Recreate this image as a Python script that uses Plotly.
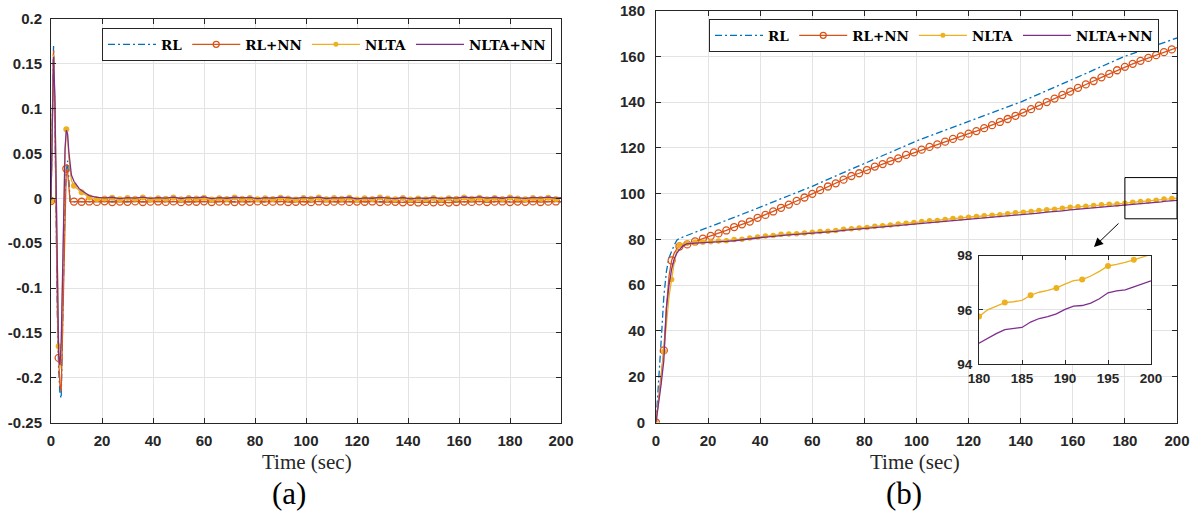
import numpy as np
import plotly.graph_objects as go

# ---------------- panel (a): tracking error ----------------
t_a_early = [0, 0.5, 1, 1.5, 2, 2.5, 3, 3.5, 4, 4.5, 5, 5.5, 6, 6.5, 7, 7.5, 8, 9, 10, 11, 12]
t_a_late = list(range(15, 199, 3)) + [200]

rl_a_early = [-0.003, 0.080, 0.170, 0.095, -0.030, -0.130, -0.190, -0.218, -0.223, -0.150, -0.060,
              0.000, 0.030, 0.042, 0.020, -0.0035, -0.0040, -0.0038, -0.0036, -0.0039, -0.0037]
rlnn_a_early = [-0.003, 0.075, 0.165, 0.095, -0.030, -0.125, -0.178, -0.208, -0.215, -0.150, -0.065,
                -0.005, 0.033, 0.030, 0.010, -0.0035, -0.0040, -0.0036, -0.0039, -0.0034, -0.0038]
nlta_a_early = [-0.003, 0.070, 0.160, 0.110, 0.000, -0.100, -0.165, -0.190, -0.170, -0.100, -0.010,
                0.050, 0.077, 0.070, 0.045, 0.028, 0.020, 0.014, 0.011, 0.009, 0.0069]
nltann_a_early = [-0.002, 0.070, 0.158, 0.115, 0.005, -0.105, -0.175, -0.186, -0.160, -0.090, 0.000,
                  0.055, 0.076, 0.072, 0.052, 0.035, 0.026, 0.019, 0.015, 0.011, 0.0087]

rl_a_late = [-0.0038, -0.0036, -0.0039, -0.0037, -0.0035, -0.0038, -0.0036, -0.0039, -0.0037, -0.0036,
             -0.0038, -0.0035, -0.0037, -0.0039, -0.0036, -0.0038, -0.0037, -0.0035, -0.0038, -0.0036,
             -0.0039, -0.0037, -0.0036, -0.0038, -0.0035, -0.0037, -0.0039, -0.0036, -0.0038, -0.0037,
             -0.0035, -0.0038, -0.0036, -0.0039, -0.0037, -0.0036, -0.0038, -0.0035, -0.0037, -0.0039,
             -0.0036, -0.0044, -0.0037, -0.0046, -0.0040, -0.0045, -0.0039, -0.0048, -0.0036, -0.0038,
             -0.0035, -0.0037, -0.0039, -0.0036, -0.0038, -0.0037, -0.0035, -0.0038, -0.0036, -0.0039,
             -0.0037, -0.0036, -0.0038]
rlnn_a_late = [-0.0035, -0.0040, -0.0033, -0.0042, -0.0036, -0.0039, -0.0034, -0.0041, -0.0037, -0.0035,
               -0.0040, -0.0034, -0.0043, -0.0036, -0.0038, -0.0033, -0.0041, -0.0037, -0.0035, -0.0042,
               -0.0036, -0.0039, -0.0034, -0.0040, -0.0037, -0.0035, -0.0041, -0.0038, -0.0036, -0.0043,
               -0.0035, -0.0039, -0.0037, -0.0034, -0.0040, -0.0036, -0.0038, -0.0035, -0.0042, -0.0037,
               -0.0039, -0.0045, -0.0038, -0.0046, -0.0040, -0.0044, -0.0039, -0.0047, -0.0041, -0.0036,
               -0.0040, -0.0034, -0.0041, -0.0037, -0.0035, -0.0042, -0.0036, -0.0039, -0.0034, -0.0041,
               -0.0037, -0.0035, -0.0040]
nlta_a_late = [0.0013, -0.0008, -0.0002, 0.0006, -0.0011, 0.0003, -0.0005, 0.0009, -0.0012, 0.0002,
               -0.0006, 0.0008, -0.0010, 0.0004, -0.0003, 0.0007, -0.0013, 0.0001, -0.0007, 0.0010,
               -0.0004, 0.0005, -0.0011, 0.0002, -0.0008, 0.0006, -0.0002, -0.0012, 0.0004, -0.0006,
               0.0009, -0.0009, 0.0003, -0.0005, 0.0007, -0.0013, 0.0000, -0.0007, 0.0008, -0.0003,
               -0.0010, 0.0005, -0.0014, -0.0002, -0.0009, 0.0004, -0.0012, 0.0001, -0.0006, 0.0009,
               -0.0004, 0.0006, -0.0010, 0.0003, -0.0007, 0.0008, -0.0002, -0.0011, 0.0005, -0.0005,
               0.0007, -0.0008, 0.0002]
nltann_a_late = [0.0030, 0.0010, 0.0004, 0.0012, -0.0003, 0.0009, 0.0002, 0.0014, -0.0001, 0.0008,
                 0.0003, 0.0013, -0.0002, 0.0010, 0.0005, 0.0015, -0.0004, 0.0007, 0.0001, 0.0012,
                 0.0004, 0.0011, -0.0003, 0.0009, 0.0002, 0.0013, 0.0006, -0.0001, 0.0010, 0.0003,
                 0.0014, -0.0002, 0.0008, 0.0004, 0.0012, -0.0005, 0.0006, 0.0001, 0.0011, 0.0003,
                 -0.0004, 0.0009, -0.0006, 0.0005, -0.0002, 0.0010, -0.0003, 0.0007, 0.0002, 0.0015,
                 0.0006, 0.0016, 0.0003, 0.0012, 0.0001, 0.0013, 0.0005, -0.0001, 0.0011, 0.0004,
                 0.0014, 0.0002, 0.0009]

# ---------------- panel (b): cumulative cost ----------------
t_rl_b = [0, 1, 2, 3, 4, 5, 6, 7, 8, 9, 10, 15, 20, 30, 40, 50, 60, 70, 80, 90, 100,
          110, 120, 130, 140, 150, 160, 170, 180, 190, 200]
rl_b = [0, 16, 36, 55, 66, 72, 75, 77.5, 79.6, 80.5, 80.9, 83.0, 85.1, 89.6, 94.1, 98.6, 103.2,
        108.2, 113.1, 118.1, 123.0, 127.3, 131.5, 135.8, 140.0, 145.0, 150.0, 155.0, 160.0, 164.0, 168.0]

t_rlnn_b = list(range(0, 13)) + list(range(15, 199, 3)) + [200]
rlnn_b = [0, 10, 21, 31.5, 50, 64, 70.8, 74, 75.8, 76.9, 77.2, 77.5, 77.8,
          79.1, 80.3, 81.5, 82.6, 83.9, 85.4, 86.6, 87.8, 89.4, 90.7,
          92.2, 93.8, 95.2, 96.8, 98.3, 99.9, 101.5, 103.1, 104.5, 106.1,
          107.7, 108.9, 110.3, 111.8, 112.9, 114.2, 115.4, 116.9, 118.0, 119.2,
          120.4, 121.5, 122.7, 123.9, 125.0, 126.2, 127.3, 128.6, 129.9, 131.3,
          132.6, 134.0, 135.4, 136.9, 138.4, 140.0, 141.5, 143.1, 144.6, 146.2,
          147.7, 149.2, 150.8, 152.3, 153.9, 155.4, 156.7, 158.0, 159.3, 160.5,
          161.8, 163.0, 163.8]

t_nl_b = list(range(0, 13)) + list(range(15, 178, 3)) + list(range(180, 201))
nlta_b = [0, 9, 19, 31, 44, 55, 62.5, 70, 75, 77.5, 77.9, 78.1, 78.3,
          78.8, 78.8, 79.0, 79.3, 79.4, 79.9, 80.1, 80.6, 81.0, 81.5,
          81.7, 82.2, 82.3, 82.5, 82.8, 83.1, 83.4, 83.6, 83.9, 84.4,
          84.7, 85.0, 85.2, 85.7, 86.0, 86.3, 86.7, 87.1, 87.4, 87.8,
          88.1, 88.3, 88.7, 89.1, 89.3, 89.7, 90.0, 90.3, 90.6, 90.8,
          91.2, 91.6, 91.9, 92.2, 92.6, 93.0, 93.2, 93.6, 94.0, 94.3,
          94.5, 94.8, 95.1, 95.3, 95.5,
          95.75, 96.0, 96.15, 96.27, 96.3, 96.35, 96.54, 96.65, 96.72, 96.81,
          96.95, 97.08, 97.12, 97.25, 97.42, 97.62, 97.68, 97.75, 97.85, 97.95, 98.05]
nltann_b = [0, 8, 17, 27, 50, 60, 67, 71.5, 74, 75.5, 76.8, 77.6, 78.1,
            78.4, 78.5, 78.6, 78.9, 79.1, 79.4, 79.7, 80.1, 80.6, 81.0,
            81.4, 81.8, 82.0, 82.2, 82.4, 82.7, 83.0, 83.2, 83.5, 83.9,
            84.2, 84.5, 84.7, 85.1, 85.4, 85.7, 86.1, 86.4, 86.7, 87.0,
            87.3, 87.5, 87.8, 88.2, 88.4, 88.8, 89.0, 89.3, 89.6, 89.8,
            90.1, 90.5, 90.8, 91.1, 91.5, 91.9, 92.1, 92.5, 92.9, 93.2,
            93.4, 93.7, 94.0, 94.2, 94.5,
            94.77, 94.95, 95.12, 95.27, 95.31, 95.35, 95.55, 95.68, 95.75, 95.85,
            96.02, 96.14, 96.16, 96.25, 96.41, 96.63, 96.70, 96.74, 96.85, 96.95, 97.07]

# axis ticks
x_ticks = [0, 20, 40, 60, 80, 100, 120, 140, 160, 180, 200]
ya_ticks = [-0.25, -0.2, -0.15, -0.1, -0.05, 0, 0.05, 0.1, 0.15, 0.2]
ya_ticktext = ['-0.25', '-0.2', '-0.15', '-0.1', '-0.05', '0', '0.05', '0.1', '0.15', '0.2']
yb_ticks = [0, 20, 40, 60, 80, 100, 120, 140, 160, 180]
inset_x_ticks = [180, 185, 190, 195, 200]
inset_y_ticks = [94, 96, 98]

names = ['RL', 'RL+NN', 'NLTA', 'NLTA+NN']

# ---------------- styling ----------------
C_RL = '#0072BD'
C_RLNN = '#D95319'
C_NLTA = '#EDB120'
C_NLTANN = '#7E2F8E'
AX = '#262626'
GRID = '#e3e3e3'
LW = 1.3
DASHDOT = '7px,3px,2px,3px'


def on_grid(t):
    t = np.asarray(t, dtype=float)
    return np.isclose(np.mod(t, 3), 0)


t_a = np.array(t_a_early + t_a_late, dtype=float)
series_a = {
    'RL': np.array(rl_a_early + rl_a_late),
    'RL+NN': np.array(rlnn_a_early + rlnn_a_late),
    'NLTA': np.array(nlta_a_early + nlta_a_late),
    'NLTA+NN': np.array(nltann_a_early + nltann_a_late),
}

fig = go.Figure()


def add_series(t, y, color, xa, ya, dash='solid', marker=None, msize=6, width=LW):
    t = np.asarray(t, dtype=float)
    y = np.asarray(y, dtype=float)
    fig.add_trace(go.Scatter(x=t, y=y, mode='lines', showlegend=False, hoverinfo='skip',
                             line=dict(color=color, width=width, dash=dash),
                             xaxis=xa, yaxis=ya))
    if marker is not None:
        m = on_grid(t)
        if marker == 'circle-open':
            mk = dict(symbol='circle-open', size=msize, color=color, line=dict(width=1.3, color=color))
        else:
            mk = dict(symbol='circle', size=msize, color=color, line=dict(width=0))
        fig.add_trace(go.Scatter(x=t[m], y=y[m], mode='markers', showlegend=False, hoverinfo='skip',
                                 marker=mk, xaxis=xa, yaxis=ya))


# panel (a)
add_series(t_a, series_a['RL'], C_RL, 'x', 'y', dash=DASHDOT)
add_series(t_a, series_a['RL+NN'], C_RLNN, 'x', 'y', marker='circle-open', msize=7)
add_series(t_a, series_a['NLTA'], C_NLTA, 'x', 'y', marker='circle', msize=6)
add_series(t_a, series_a['NLTA+NN'], C_NLTANN, 'x', 'y')

# panel (b)
add_series(t_rl_b, rl_b, C_RL, 'x2', 'y2', dash=DASHDOT)
add_series(t_rlnn_b, rlnn_b, C_RLNN, 'x2', 'y2', marker='circle-open', msize=7)
add_series(t_nl_b, nlta_b, C_NLTA, 'x2', 'y2', marker='circle', msize=5.5)
add_series(t_nl_b, nltann_b, C_NLTANN, 'x2', 'y2')

# zoomed inset of panel (b)
add_series(t_nl_b, nlta_b, C_NLTA, 'x3', 'y3', marker='circle', msize=6)
add_series(t_nl_b, nltann_b, C_NLTANN, 'x3', 'y3')

# legend entries (one legend per panel)
styles = {
    'RL': dict(mode='lines', line=dict(color=C_RL, width=LW, dash=DASHDOT)),
    'RL+NN': dict(mode='lines+markers', line=dict(color=C_RLNN, width=LW),
                  marker=dict(symbol='circle-open', size=6, color=C_RLNN, line=dict(width=1.3, color=C_RLNN))),
    'NLTA': dict(mode='lines+markers', line=dict(color=C_NLTA, width=LW),
                 marker=dict(symbol='circle', size=5, color=C_NLTA)),
    'NLTA+NN': dict(mode='lines', line=dict(color=C_NLTANN, width=LW)),
}
for leg, xa, ya in (('legend', 'x', 'y'), ('legend2', 'x2', 'y2')):
    for n in names:
        fig.add_trace(go.Scatter(x=[None], y=[None], name=n, legend=leg, xaxis=xa, yaxis=ya,
                                 hoverinfo='skip', **styles[n]))

tickfont = dict(family='Liberation Sans', size=15, color=AX, weight='bold')


def axis_style(**kw):
    d = dict(showline=True, linecolor=AX, linewidth=1, mirror='ticks', ticks='inside', ticklen=5,
             tickcolor=AX, tickwidth=1, showgrid=True, gridcolor=GRID, gridwidth=1, zeroline=False,
             tickfont=tickfont, fixedrange=True, automargin=False)
    d.update(kw)
    return d


W, H = 1200, 512
def px_x(p):
    return p / W
def px_y(p):
    return (H - p) / H

legend_style = dict(orientation='h', bgcolor='white', bordercolor='#262626', borderwidth=1,
                    font=dict(family='DejaVu Serif', size=13.5, color='black', weight='bold'),
                    itemwidth=48, xanchor='left', yanchor='top', tracegroupgap=0,
                    itemclick=False, itemdoubleclick=False)

label_font = dict(family='Liberation Serif', size=21, color=AX)
panel_font = dict(family='Liberation Serif', size=31, color='black')

fig.update_layout(
    width=W, height=H, margin=dict(l=0, r=0, t=0, b=0, pad=0, autoexpand=False),
    paper_bgcolor='white', plot_bgcolor='white',
    xaxis=axis_style(domain=[px_x(51), px_x(561)], range=[0, 200], tickvals=x_ticks,
                     anchor='y', ticklabelstandoff=4),
    yaxis=axis_style(domain=[px_y(422.5), px_y(19)], range=[-0.25, 0.2], tickvals=ya_ticks,
                     ticktext=ya_ticktext, anchor='x', ticklabelstandoff=5),
    xaxis2=axis_style(domain=[px_x(656), px_x(1177)], range=[0, 200], tickvals=x_ticks,
                      anchor='y2', ticklabelstandoff=4),
    yaxis2=axis_style(domain=[px_y(422.5), px_y(10.5)], range=[0, 180], tickvals=yb_ticks,
                      anchor='x2', ticklabelstandoff=7),
    xaxis3=axis_style(domain=[px_x(979), px_x(1151)], range=[180, 200], tickvals=inset_x_ticks,
                      anchor='y3', ticklen=4,
                      tickfont=dict(family='Liberation Sans', size=13.5, color=AX, weight='bold'),
                      ticklabelstandoff=2),
    yaxis3=axis_style(domain=[px_y(364), px_y(255.7)], range=[94, 98], tickvals=inset_y_ticks,
                      anchor='x3', ticklen=4,
                      tickfont=dict(family='Liberation Sans', size=13.5, color=AX, weight='bold'),
                      ticklabelstandoff=3),
    legend=dict(legend_style, x=px_x(102), y=px_y(28)),
    legend2=dict(legend_style, x=px_x(709), y=px_y(19)),
    shapes=[
        # white backing for the inset
        dict(type='rect', xref='x3', yref='y3', x0=180, x1=200, y0=94, y1=98,
             fillcolor='white', line=dict(width=0), layer='below'),
        # zoom window in panel (b)
        dict(type='rect', xref='x2', yref='y2', x0=180, x1=200, y0=89, y1=107,
             line=dict(color='black', width=1), fillcolor='rgba(0,0,0,0)'),
    ],
    annotations=[
        dict(text='Time (sec)', x=px_x(307), y=px_y(462), xref='paper', yref='paper',
             xanchor='center', yanchor='middle', showarrow=False, font=label_font),
        dict(text='Time (sec)', x=px_x(915), y=px_y(462), xref='paper', yref='paper',
             xanchor='center', yanchor='middle', showarrow=False, font=label_font),
        dict(text='(a)', x=px_x(289), y=px_y(493), xref='paper', yref='paper',
             xanchor='center', yanchor='middle', showarrow=False, font=panel_font),
        dict(text='(b)', x=px_x(904), y=px_y(493), xref='paper', yref='paper',
             xanchor='center', yanchor='middle', showarrow=False, font=panel_font),
        dict(text='', x=px_x(1094), y=px_y(247), xref='paper', yref='paper',
             showarrow=True, ax=26, ay=-25, arrowhead=2, arrowsize=1.8, arrowwidth=1,
             arrowcolor='black'),
    ],
)

fig.write_html('out.html', include_plotlyjs=True, config=dict(displayModeBar=False, staticPlot=True))
